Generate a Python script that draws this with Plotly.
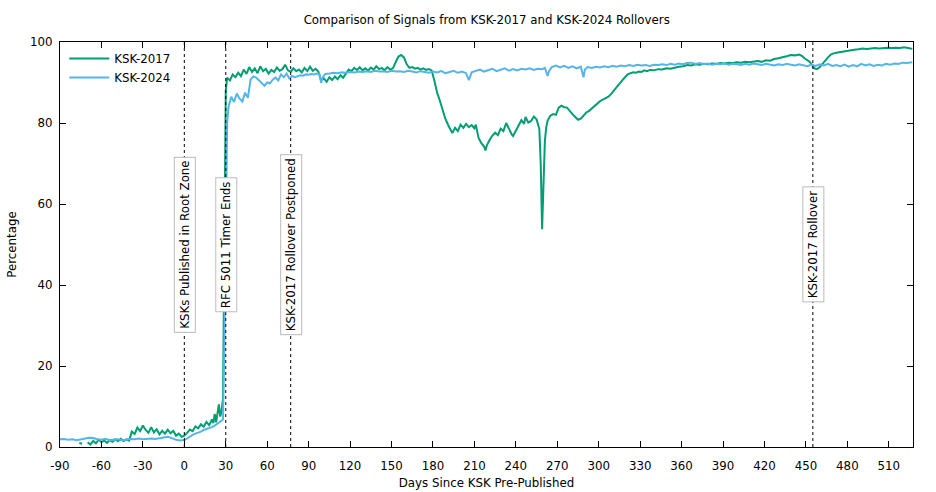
import plotly.graph_objects as go

# ---------------- data ----------------
ksk2017_days = [-88, -86, -82, -80, -76, -74, -73, -70, -68, -66, -64, -62, -60, -58, -56, -54, -52, -50, -48, -46,
                -44, -42, -40, -38, -36, -34, -32, -30, -28, -26, -24, -22, -20, -18, -16, -14, -12, -10, -8, -6,
                -4, -2, 0, 2, 4, 6, 8, 10, 12, 14, 16, 18, 20, 21, 22, 23, 24, 25, 26, 27,
                28, 29, 30, 31, 33, 35, 37, 39, 41, 43, 45, 47, 49, 51, 53, 55, 57, 59, 61, 63,
                65, 67, 69, 71, 73, 75, 77, 79, 81, 83, 85, 87, 89, 91, 93, 95, 97, 99, 101, 103,
                105, 107, 109, 111, 113, 115, 117, 119, 121, 123, 125, 127, 129, 131, 133, 135, 137, 139, 141, 143,
                145, 147, 149, 151, 153, 155, 157, 159, 161, 163, 165, 167, 169, 171, 173, 175, 177, 179, 181, 183,
                185, 187, 189, 191, 193, 194, 196, 198, 200, 202, 204, 206, 208, 210, 211, 213, 215, 217, 218, 219,
                221, 223, 225, 227, 229, 231, 233, 235, 237, 238, 240, 242, 244, 246, 247, 249, 251, 253, 255, 257,
                258, 259, 260, 261, 262, 263, 265, 267, 269, 271, 273, 275, 277, 279, 281, 283, 285, 287, 289, 291,
                293, 295, 297, 299, 301, 303, 305, 307, 309, 311, 313, 315, 317, 319, 321, 323, 325, 327, 329, 331,
                333, 335, 337, 340, 343, 346, 349, 352, 355, 358, 361, 364, 367, 370, 373, 376, 379, 382, 385, 388,
                391, 394, 397, 400, 403, 406, 409, 412, 415, 418, 421, 424, 427, 430, 433, 436, 439, 442, 445, 447,
                449, 451, 453, 455, 456, 458, 460, 462, 464, 466, 468, 470, 473, 476, 479, 482, 485, 488, 491, 494,
                497, 500, 503, 506, 509, 512, 515, 518, 521, 524, 527]
ksk2017_pct = [0.5, None, 1.2, None, 1.0, 0.8, None, 1.2, 0.6, 1.5, 0.9, 1.8, 1.2, 1.6, 1.0, 1.7, 1.3, 1.9, 1.4, 2.0,
               1.5, 1.9, 1.6, 3.8, 3.2, 4.8, 3.9, 5.3, 4.2, 3.5, 4.9, 3.6, 4.4, 3.1, 4.0, 3.3, 4.3, 3.4, 4.0, 2.8,
               3.3, 2.5, 2.8, 3.5, 4.3, 3.9, 5.1, 4.6, 5.6, 5.0, 6.2, 5.4, 6.8, 5.9, 8.2, 6.1, 8.8, 10.5, 7.5, 9.0,
               12.0, 55.0, 88.0, 91.2, 90.5, 92.0, 91.3, 92.4, 91.6, 93.2, 92.1, 93.8, 92.6, 93.5, 92.3, 94.0, 92.8, 93.4, 92.2, 93.1,
               92.6, 93.7, 92.9, 93.3, 94.4, 93.0, 92.6, 93.5, 92.8, 93.2, 92.5, 93.6, 92.8, 93.9, 92.9, 93.4, 92.7, 90.5, 91.0, 90.2,
               91.3, 90.6, 91.5, 90.8, 91.8, 91.2, 92.3, 93.2, 92.8, 93.6, 93.1, 93.8, 93.0, 93.5, 92.9, 93.7, 93.2, 94.0, 93.3, 93.6,
               93.0, 93.8, 93.2, 93.5, 95.0, 96.4, 96.8, 96.2, 94.5, 93.6, 93.8, 93.4, 93.6, 93.2, 93.5, 93.1, 93.3, 93.0, 90.5, 87.5,
               85.5, 83.0, 81.0, 79.5, 78.2, 77.5, 78.8, 78.0, 79.6, 78.8, 79.8, 79.0, 79.5, 78.7, 79.6, 76.3, 75.0, 74.2, 73.2, 74.5,
               75.8, 76.9, 77.6, 77.0, 78.6, 78.0, 80.0, 78.5, 77.2, 76.8, 78.2, 79.3, 80.7, 79.8, 81.5, 80.1, 80.5, 81.6, 80.9, 78.5,
               70.0, 53.8, 65.0, 75.5, 79.0, 80.6, 81.8, 82.2, 82.0, 83.8, 84.3, 83.9, 83.8, 82.9, 82.2, 81.5, 80.8, 81.1, 82.0, 82.6,
               83.0, 83.6, 84.2, 84.9, 85.4, 85.8, 86.1, 86.5, 87.2, 88.1, 89.0, 89.8, 90.5, 91.3, 92.0, 92.3, 92.5, 92.4, 92.7, 92.6,
               93.0, 92.8, 93.1, 93.0, 93.3, 93.2, 93.5, 93.4, 93.7, 93.9, 94.0, 94.3, 94.2, 94.5, 94.4, 94.6, 94.5, 94.7, 94.6, 94.8,
               94.7, 94.9, 94.8, 95.0, 94.9, 95.1, 95.0, 95.2, 95.3, 95.1, 95.5, 95.4, 95.8, 96.0, 96.2, 96.5, 96.8, 96.7, 96.9, 96.6,
               96.0, 95.6, 95.0, 94.0, 93.5, 93.3, 93.8, 94.6, 95.5, 96.2, 96.9, 97.2, 97.4, 97.6, 97.8, 97.9, 98.1, 98.2, 98.4, 98.3,
               98.4, 98.5, 98.4, 98.5, 98.6, 98.5, 98.6, 98.5, 98.7, 98.5, 98.3]

ksk2024_days = [-90, -87, -84, -81, -78, -75, -72, -69, -66, -63, -60, -57, -54, -51, -48, -45, -42, -39, -36, -33,
                -30, -27, -24, -21, -18, -15, -12, -9, -6, -3, 0, 2, 4, 6, 8, 10, 12, 14, 16, 18,
                20, 22, 24, 26, 28, 29, 30, 31, 32, 34, 36, 38, 40, 42, 44, 46, 48, 50, 52, 54,
                56, 58, 60, 62, 64, 66, 68, 70, 72, 74, 76, 78, 80, 82, 84, 86, 88, 90, 92, 94,
                96, 98, 99, 100, 102, 105, 108, 111, 114, 117, 120, 123, 126, 129, 132, 135, 138, 141, 144, 147,
                150, 153, 156, 159, 162, 165, 168, 171, 174, 177, 180, 183, 186, 189, 192, 195, 198, 201, 204, 206,
                208, 211, 214, 217, 220, 223, 226, 229, 232, 235, 238, 241, 244, 247, 250, 253, 256, 259, 261, 263,
                264, 266, 269, 272, 275, 278, 281, 284, 287, 289, 290, 292, 295, 298, 301, 304, 307, 310, 313, 316,
                319, 322, 325, 328, 331, 334, 337, 340, 343, 346, 349, 352, 355, 358, 361, 364, 367, 370, 373, 376,
                379, 382, 385, 388, 391, 394, 397, 400, 403, 406, 409, 412, 415, 418, 421, 424, 427, 430, 433, 436,
                439, 442, 445, 448, 451, 454, 457, 460, 463, 466, 469, 472, 475, 478, 481, 484, 487, 490, 493, 496,
                499, 502, 505, 508, 511, 514, 517, 520, 523, 527]
ksk2024_pct = [1.9, 2.0, 1.8, 1.9, 1.7, 1.9, 2.0, 2.3, 2.2, 1.9, 1.8, 2.0, 1.7, 1.8, 1.9, 1.7, 1.8, 2.0, 1.9, 2.1,
               1.9, 2.0, 2.1, 2.0, 2.2, 2.3, 2.5, 2.2, 1.8, 1.6, 1.7, 2.1, 2.6, 3.0, 3.3, 3.5, 3.8, 4.2, 4.4, 4.6,
               4.9, 5.3, 5.8, 6.2, 6.8, 25.0, 62.0, 80.0, 84.0, 86.5, 85.2, 87.3, 86.0, 85.3, 87.5, 86.2, 90.8, 91.5, 91.2, 90.6,
               89.8, 89.2, 90.0, 89.8, 90.7, 91.2, 90.5, 92.0, 91.3, 92.2, 91.0, 91.6, 91.3, 91.6, 91.8, 91.7, 92.0, 91.9, 92.1, 92.0,
               92.2, 92.0, 89.9, 91.2, 92.1, 92.2, 92.4, 92.3, 92.5, 92.4, 92.6, 92.5, 92.7, 92.6, 92.8, 92.6, 92.9, 92.7, 92.8, 92.6,
               92.9, 92.7, 92.8, 92.6, 92.9, 92.7, 92.5, 92.8, 92.6, 92.4, 92.7, 92.5, 92.8, 92.3, 92.6, 92.9, 92.4, 92.7, 92.3, 90.6,
               92.5, 92.8, 93.2, 92.7, 93.0, 93.4, 92.8, 93.1, 93.5, 92.9, 93.3, 93.0, 93.4, 93.2, 93.5, 93.1, 93.4, 93.3, 93.6, 91.6,
               92.8, 93.8, 94.2, 93.7, 94.1, 93.6, 94.0, 93.5, 93.9, 91.3, 93.2, 93.8, 93.6, 93.9, 93.7, 94.0, 93.8, 94.1, 93.9, 94.2,
               94.0, 94.3, 94.1, 94.4, 94.2, 94.3, 94.1, 94.4, 94.3, 94.5, 94.3, 94.6, 94.4, 94.7, 94.5, 94.8, 94.9, 94.6, 94.8, 94.5,
               94.7, 94.4, 94.6, 94.5, 94.7, 94.4, 94.6, 94.5, 94.3, 94.6, 94.4, 94.7, 94.5, 94.3, 94.6, 94.4, 94.2, 94.5, 94.3, 94.6,
               94.4, 94.2, 94.5, 94.3, 94.0, 94.4, 94.1, 94.5, 94.2, 94.6, 94.1, 94.3, 94.0, 94.4, 93.9, 94.3, 94.0, 94.6, 94.2, 94.5,
               94.1, 94.4, 94.2, 94.6, 94.4, 94.7, 94.6, 94.9, 94.8, 95.0]

event_days = [0, 30, 77, 455]
event_labels = ["KSKs Published in Root Zone", "RFC 5011 Timer Ends", "KSK-2017 Rollover Postponed", "KSK-2017 Rollover"]
event_label_y = 50

x_tick_values = [-90, -60, -30, 0, 30, 60, 90, 120, 150, 180, 210, 240, 270, 300, 330, 360, 390, 420, 450, 480, 510]
x_tick_labels = ["-90", "-60", "-30", "0", "30", "60", "90", "120", "150", "180", "210", "240", "270", "300",
                 "330", "360", "390", "420", "450", "480", "510"]
y_tick_values = [0, 20, 40, 60, 80, 100]

# ---------------- figure ----------------
FONT = "DejaVu Sans"
FS = 11.8
fig = go.Figure()
fig.add_trace(go.Scatter(x=ksk2017_days, y=ksk2017_pct, mode="lines", name="KSK-2017",
                         line=dict(color="#009e73", width=2), connectgaps=False))
fig.add_trace(go.Scatter(x=ksk2024_days, y=ksk2024_pct, mode="lines", name="KSK-2024",
                         line=dict(color="#56b4e9", width=2)))

for d, lab in zip(event_days, event_labels):
    fig.add_vline(x=d, line=dict(color="black", width=1, dash="dot"))
    fig.add_annotation(x=d, y=event_label_y, xref="x", yref="y", text=lab, textangle=-90,
                       showarrow=False, bgcolor="white", bordercolor="#bbbbbb", borderwidth=1,
                       borderpad=3, font=dict(family=FONT, size=FS, color="black"))

axis_common = dict(showline=True, linecolor="black", linewidth=1, mirror="allticks",
                   ticks="inside", ticklen=6, tickcolor="black", showgrid=False, zeroline=False,
                   automargin=False, tickfont=dict(family=FONT, size=FS, color="black"))
fig.update_xaxes(range=[-90, 527.5], tickvals=x_tick_values, ticktext=x_tick_labels, ticklabelstandoff=8,
                 title=dict(text="Days Since KSK Pre-Published", font=dict(family=FONT, size=FS), standoff=6),
                 **axis_common)
fig.update_yaxes(range=[0, 100], tickvals=y_tick_values, ticklabelstandoff=4,
                 title=dict(text="Percentage", font=dict(family=FONT, size=FS), standoff=10),
                 **axis_common)

fig.update_layout(
    width=936, height=492,
    margin=dict(l=60, r=23, t=42, b=45),
    paper_bgcolor="white", plot_bgcolor="white",
    title=dict(text="Comparison of Signals from KSK-2017 and KSK-2024 Rollovers", x=0.52, xanchor="center",
               y=0.96, yanchor="middle", font=dict(family=FONT, size=FS, color="black")),
    font=dict(family=FONT, size=FS, color="black"),
    legend=dict(x=0.005, y=0.995, xanchor="left", yanchor="top", bgcolor="rgba(0,0,0,0)",
                font=dict(family=FONT, size=FS), tracegroupgap=0, itemwidth=40),
    showlegend=True,
)

fig.write_html("out.html")
